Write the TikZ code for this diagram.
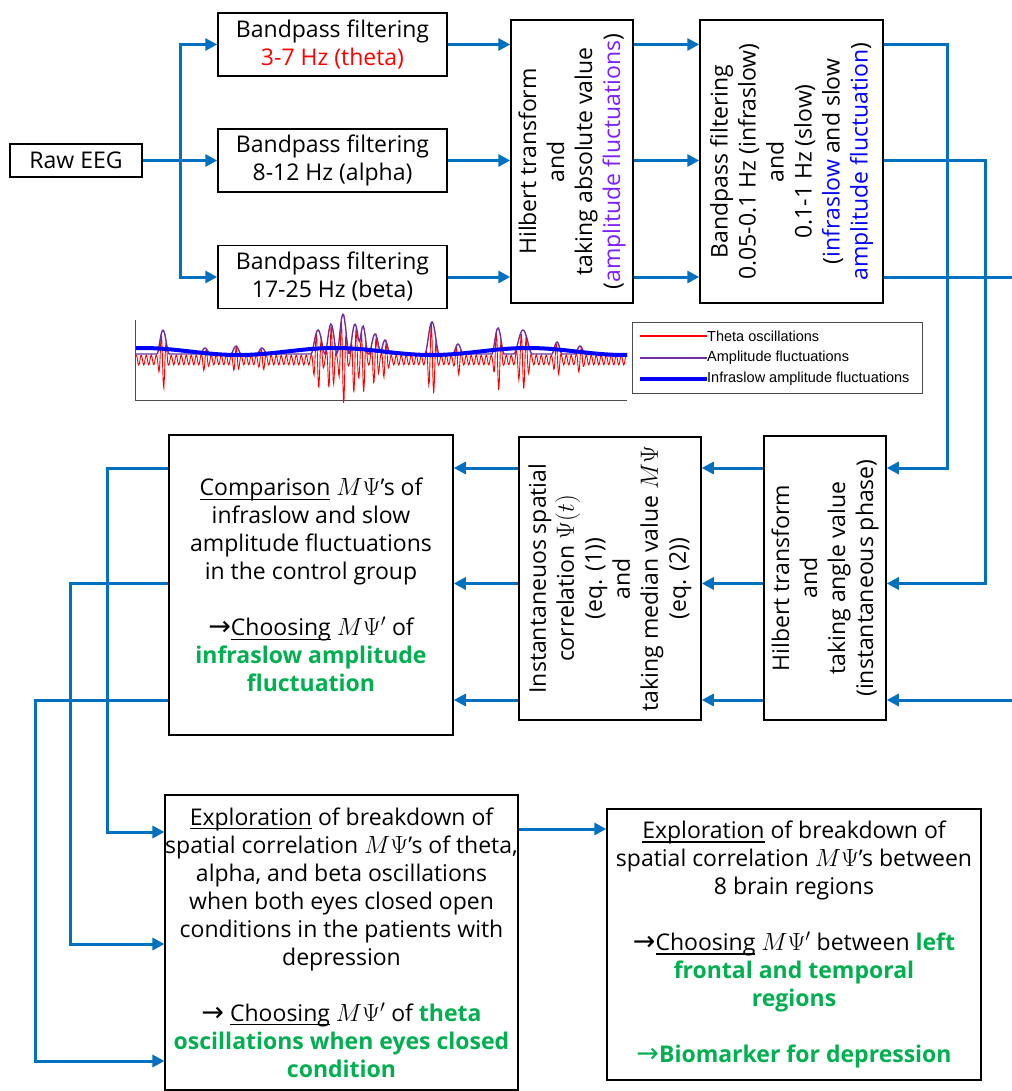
\documentclass[tikz,border=0pt]{standalone}
\usepackage{fontspec}
\setmainfont{Open Sans}
\newfontfamily\legfont{Liberation Sans}
\newfontfamily\arrfont{DejaVu Sans}
\usetikzlibrary{arrows.meta}
\definecolor{arrblue}{HTML}{0070C0}
\definecolor{grn}{HTML}{00B050}
\definecolor{vio}{HTML}{7F1FFF}
\definecolor{ppl}{HTML}{7030A0}
\newcommand\rarr{{\arrfont\fontsize{27}{28}\selectfont →}}
\newcommand\gb[1]{\textcolor{grn}{\textbf{#1}}}
\newcommand\ul[1]{{\setbox0\hbox{#1}\rlap{\rule[-4pt]{\wd0}{1.1pt}}\box0}}
\tikzset{
  box/.style={draw=black, line width=1.5pt, fill=white, inner sep=0pt},
  txt/.style={align=center, font=\fontsize{23}{28}\selectfont, inner sep=0pt},
  arr/.style={draw=arrblue, line width=3pt, -{Triangle[length=12pt,width=12pt]}},
  ln/.style={draw=arrblue, line width=3pt},
  legtxt/.style={font=\legfont\fontsize{14.5}{16}\selectfont, anchor=west, inner sep=0pt},
}
\begin{document}
\begin{tikzpicture}[x=1pt,y=-1pt,
  declare function={
    bp(\xx,\cc,\ww)=max(0,1-((\xx-\cc)/\ww)*((\xx-\cc)/\ww))^2;
    env(\xx)=5+24*bp(\xx,163,6)+6*bp(\xx,205,5)+8*bp(\xx,236,5)+6*bp(\xx,262,5)
      +24*bp(\xx,318,7)+30*bp(\xx,331,6)+40*bp(\xx,343,6)+30*bp(\xx,355,6)
      +28*bp(\xx,363,5)+20*bp(\xx,375,6)+14*bp(\xx,385,5)+32*bp(\xx,432,7)
      +10*bp(\xx,458,5)+26*bp(\xx,498,6)+24*bp(\xx,523,9)+12*bp(\xx,557,5)
      +8*bp(\xx,580,5);
  }]
\useasboundingbox (0,0) rectangle (1011,1091);

% ---------- top row ----------
\node[box, txt, minimum width=132pt, minimum height=33pt] (raw) at (76,160.5) {Raw EEG};
\node[box, txt, minimum width=229pt, minimum height=63pt] (tt) at (332.5,44.5)
  {Bandpass filtering\\\textcolor{red}{3-7 Hz (theta)}};
\node[box, txt, minimum width=229pt, minimum height=63pt] (ta) at (332.5,160.5)
  {Bandpass filtering\\8-12 Hz (alpha)};
\node[box, txt, minimum width=229pt, minimum height=63pt] (tb) at (332.5,277)
  {Bandpass filtering\\17-25 Hz (beta)};

\node[box, minimum width=122pt, minimum height=283pt] (hb) at (572,161.5) {};
\node[txt, rotate=90] (hbt) at (hb.center)
  {Hilbert transform\\and\\taking absolute value\\(\textcolor{vio}{amplitude fluctuations})};

\node[box, minimum width=183pt, minimum height=283pt] (bp2) at (791.5,161.5) {};
\node[txt, rotate=90] (bp2t) at (bp2.center)
  {Bandpass filtering\\0.05-0.1 Hz (infraslow)\\and\\0.1-1 Hz (slow)\\(\textcolor{blue}{infraslow} and slow\\\textcolor{blue}{amplitude fluctuation})};

% ---------- middle row ----------
\node[box, minimum width=122pt, minimum height=284pt] (h2) at (825,578) {};
\node[txt, rotate=90] (h2t) at (h2.center)
  {Hilbert transform\\and\\taking angle value\\(instantaneous phase)};

\node[box, minimum width=182pt, minimum height=283pt] (inst) at (610,578.5) {};
\node[txt, rotate=90] (instt) at (inst.center)
  {Instantaneuos spatial\\correlation $\Psi(t)$\\(eq. (1))\\and\\taking median value $M\Psi$\\(eq. (2))};

\node[box, txt, minimum width=284pt, minimum height=300pt] (comp) at (311,585)
  {\ul{Comparison} $M\Psi$'s of\\infraslow and slow\\amplitude fluctuations\\in the control group\\[28pt]
   \rarr\ul{Choosing} $M\Psi'$ of\\\gb{infraslow amplitude}\\\gb{fluctuation}};

% ---------- bottom row ----------
\node[box, txt, minimum width=347pt, minimum height=295pt] (ex1) at (341.5,942.5)
  {\ul{Exploration} of breakdown of\\spatial correlation $M\Psi$'s of theta,\\alpha, and beta oscillations\\when both eyes closed open\\conditions in the patients with\\depression\\[28pt]
   \rarr{} \ul{Choosing} $M\Psi'$ of \gb{theta}\\\gb{oscillations when eyes closed}\\\gb{condition}};

\node[box, txt, minimum width=374pt, minimum height=271pt] (ex2) at (794,944.5)
  {\ul{Exploration} of breakdown of\\spatial correlation $M\Psi$'s between\\8 brain regions\\[28pt]
   \rarr\ul{Choosing} $M\Psi'$ between \gb{left}\\\gb{frontal and temporal}\\\gb{regions}\\[28pt]
   \textcolor{grn}{\rarr\textbf{Biomarker for depression}}};

% ---------- waveform ----------
\draw[gray!60!black, line width=1pt] (135,320) -- (135,400) -- (627,400);
\draw[red, line width=0.9pt] plot[domain=136:627, samples=900, variable=\t]
  (\t, {360 - env(\t)*sin(72*mod(\t,5))});
\draw[ppl, line width=1.4pt] plot[domain=136:627, samples=500, variable=\t]
  (\t, {359 - env(\t)});
\draw[blue, line width=4pt] plot[domain=136:627, samples=120, smooth, variable=\t]
  (\t, {351.5-3.5*cos(1.8653*(\t-335))});

\node[draw=gray!60!black, line width=1pt, minimum width=290pt, minimum height=71pt, inner sep=0pt, fill=white] (leg) at (777,357.5) {};
\node[legtxt] (l1) at (707,336) {Theta oscillations};
\node[legtxt] (l2) at (707,358) {Amplitude fluctuations};
\node[legtxt] (l3) at (707,379) {Infraslow amplitude fluctuations};
\draw[red, line width=1.5pt] (640,336) -- (l1.west);
\draw[ppl, line width=1.5pt] (640,358) -- (l2.west);
\draw[blue, line width=4pt] (640,379) -- (l3.west);

% ---------- connectors ----------
\coordinate (tr) at (180,160.5);
\coordinate (r1) at (0,468);
\coordinate (r2) at (0,583.5);
\coordinate (r3) at (0,700);
\coordinate (s1) at (0,832);
\coordinate (s2) at (0,944);
\coordinate (s3) at (0,1061);
\coordinate (q) at (0,829);
\coordinate (edgeA) at (1013,277);
\coordinate (edgeB) at (1013,700);

\draw[arr] (raw.east) -- (ta.west);
\draw[arr] (tr) |- (tt.west);
\draw[arr] (tr) |- (tb.west);

\foreach \n in {tt,ta,tb}{
  \draw[arr] (\n.east) -- (\n.east -| hb.west);
  \draw[arr] (hb.east |- \n.east) -- (bp2.west |- \n.east);
}

\draw[arr] (bp2.east |- tt.east) -- (947,44.5) -- (947,468) -- (h2.east |- r1);
\draw[arr] (bp2.east |- ta.east) -- (985,160.5) -- (985,583.5) -- (h2.east |- r2);
\draw[ln] (bp2.east |- tb.east) -- (edgeA);
\draw[arr] (edgeB) -- (h2.east |- r3);

\foreach \r in {r1,r2,r3}{
  \draw[arr] (h2.west |- \r) -- (inst.east |- \r);
  \draw[arr] (inst.west |- \r) -- (comp.east |- \r);
}

\draw[arr] (comp.west |- r1) -- (107,468) -- (107,832) -- (ex1.west |- s1);
\draw[arr] (comp.west |- r2) -- (70,583.5) -- (70,944) -- (ex1.west |- s2);
\draw[arr] (comp.west |- r3) -- (35,700) -- (35,1061) -- (ex1.west |- s3);

\draw[arr] (ex1.east |- q) -- (ex2.west |- q);
\end{tikzpicture}
\end{document}
